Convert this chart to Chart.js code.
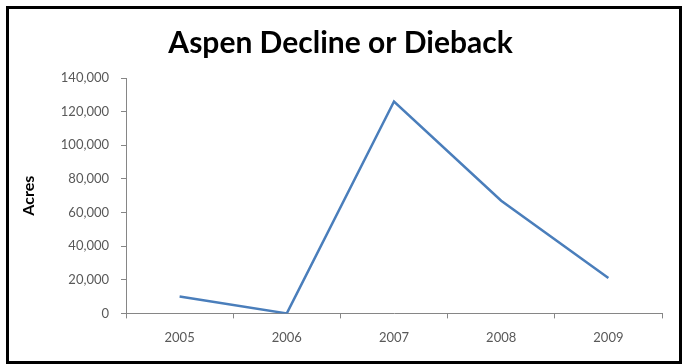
<!DOCTYPE html>
<html>
<head>
<meta charset="utf-8">
<script src="https://cdn.jsdelivr.net/npm/chart.js@4"></script>
<style>
  body { margin: 0; background: #fff; }
  #frame {
    position: absolute; left: 6px; top: 6px;
    width: 670px; height: 352px;
    border: 3px solid #000; background: #fff;
  }
</style>
</head>
<body>
<div id="frame"><canvas id="myChart" width="670" height="352"></canvas></div>
<script>
// Data
var years = ['2005', '2006', '2007', '2008', '2009'];
var acres = [10000, 0, 126000, 67000, 21000];
var yTicks = [0, 20000, 40000, 60000, 80000, 100000, 120000, 140000];

var font = "Lato, 'Open Sans', sans-serif";
var axisColor = '#868686';
var textColor = '#595959';

var ctx = document.getElementById("myChart");
var myChart = new Chart(ctx, {
  type: 'line',
  data: {
    labels: years,
    datasets: [{
      data: acres,
      label: "Acres",
      borderColor: "#4A7EBB",
      borderWidth: 2.5,
      lineTension: 0,
      pointRadius: 0,
      fill: false
    }]
  },
  options: {
    responsive: false,
    animation: false,
    layout: { padding: { left: 10, right: 17, top: 8, bottom: 3 } },
    plugins: {
      legend: { display: false },
      tooltip: { enabled: false },
      title: {
        display: true,
        text: 'Aspen Decline or Dieback',
        color: '#000',
        font: { family: font, size: 30, weight: 'bold' },
        padding: { top: 8, bottom: 17 }
      }
    },
    scales: {
      x: {
        offset: true,
        grid: { offset: true, drawOnChartArea: false, tickLength: 5, color: axisColor },
        border: { color: axisColor },
        ticks: { color: textColor, font: { family: font, size: 13 }, padding: 12 }
      },
      y: {
        min: 0,
        max: 140000,
        afterBuildTicks: function(scale) {
          scale.ticks = yTicks.map(function(v) { return { value: v }; });
        },
        afterFit: function(scale) { scale.width = 107; },
        grid: { drawOnChartArea: false, tickLength: 5, color: axisColor },
        border: { color: axisColor },
        ticks: {
          color: textColor,
          font: { family: font, size: 13 },
          padding: 12,
          callback: function(v) { return v.toLocaleString('en-US'); }
        },
        title: {
          display: true,
          text: 'Acres',
          color: '#000',
          font: { family: font, size: 16, weight: 'bold' },
          padding: { top: 0, bottom: 0 }
        }
      }
    }
  }
});
</script>
</body>
</html>
